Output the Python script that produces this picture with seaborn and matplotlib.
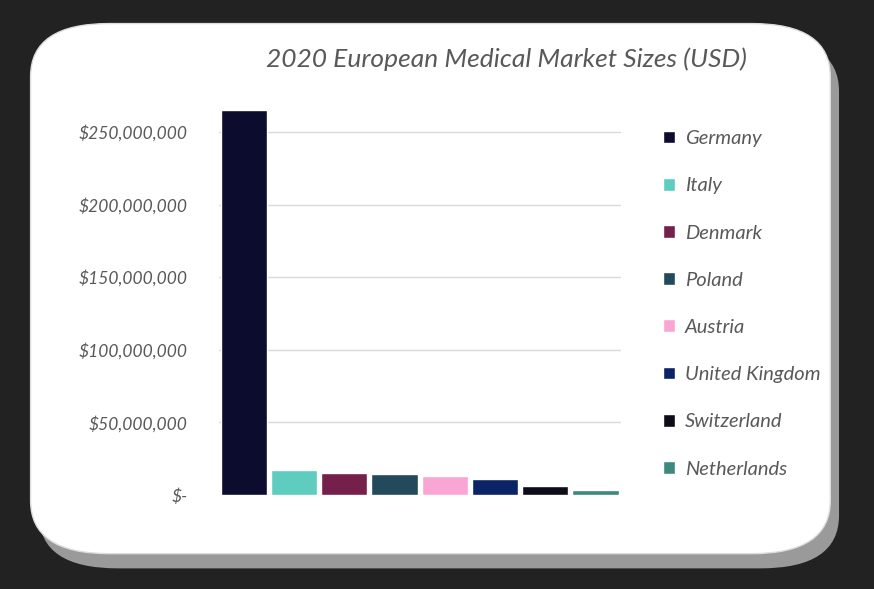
import seaborn as sns
import matplotlib.pyplot as plt
import pandas as pd
from matplotlib.patches import FancyBboxPatch
from matplotlib.ticker import FuncFormatter

countries = ['Germany', 'Italy', 'Denmark', 'Poland', 'Austria',
             'United Kingdom', 'Switzerland', 'Netherlands']
market_size = [265000000, 17000000, 15000000, 14000000, 13000000,
               11000000, 6000000, 3000000]
colors = ['#0c0c2e', '#5ecdc0', '#74204a', '#234a5a', '#f9a6d4',
          '#0a2466', '#0d0d1a', '#3c8a7e']
y_ticks = [0, 50000000, 100000000, 150000000, 200000000, 250000000]

df = pd.DataFrame({'Country': countries, 'Size': market_size})

sns.set_style('white')
plt.rcParams['font.family'] = ['Lato', 'DejaVu Sans']

fig = plt.figure(figsize=(8.74, 5.89), dpi=100)
fig.patch.set_facecolor('#222222')

# white rounded card behind the chart
shadow = FancyBboxPatch((0.045, 0.035), 0.915, 0.9, boxstyle='round,pad=0,rounding_size=0.09',
                        transform=fig.transFigure, facecolor='#9a9a9a', edgecolor='none', zorder=0)
card = FancyBboxPatch((0.035, 0.06), 0.915, 0.9, boxstyle='round,pad=0,rounding_size=0.09',
                      transform=fig.transFigure, facecolor='white', edgecolor='#dddddd', zorder=1)
fig.patches.extend([shadow, card])

ax = fig.add_axes([0.25, 0.16, 0.46, 0.67])
ax.set_facecolor('white')
ax.patch.set_alpha(0)
ax.set_zorder(2)

sns.barplot(data=df, x='Country', y='Size', hue='Country', palette=colors,
            dodge=False, width=0.92, saturation=1, legend=True, ax=ax)

ax.set_ylim(0, 272000000)
ax.set_yticks(y_ticks)
ax.yaxis.set_major_formatter(FuncFormatter(lambda v, p: '$-' if v == 0 else f'${v:,.0f}'))
ax.grid(axis='y', color='#d9d9d9', linewidth=1)
ax.set_axisbelow(True)
ax.set_xticks([])
ax.set_xlabel('')
ax.set_ylabel('')
for s in ax.spines.values():
    s.set_visible(False)
ax.tick_params(axis='y', length=0, pad=22, labelsize=12.5, labelcolor='#595959')
for t in ax.get_yticklabels():
    t.set_fontstyle('italic')

leg = ax.legend(loc='upper left', bbox_to_anchor=(1.06, 0.97), frameon=False,
                handlelength=0.6, handleheight=0.6, handletextpad=0.5,
                labelspacing=1.5, fontsize=14.5)
for t in leg.get_texts():
    t.set_color('#595959')
    t.set_fontstyle('italic')

fig.text(0.58, 0.9, '2020 European Medical Market Sizes (USD)', ha='center', va='center',
         fontsize=19, color='#595959', fontstyle='italic', zorder=3)

fig.savefig('out.png', dpi=100, facecolor=fig.get_facecolor())
